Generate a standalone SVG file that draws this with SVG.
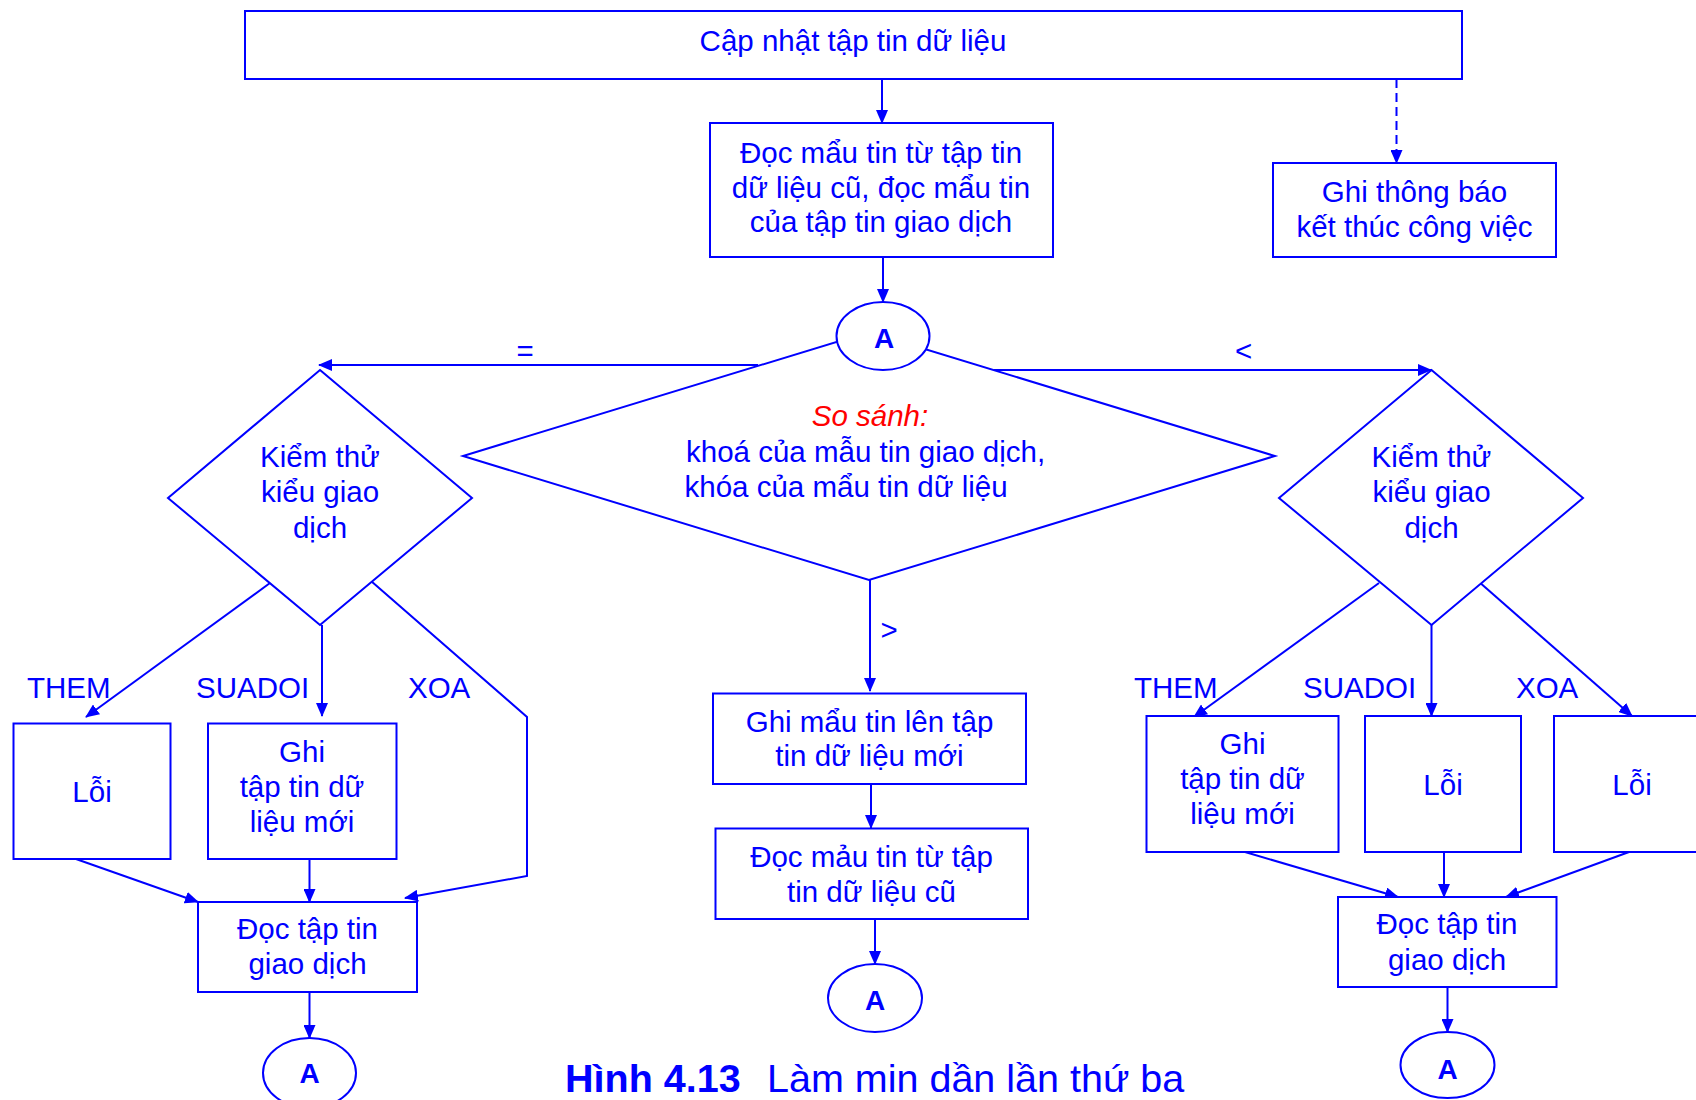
<svg xmlns="http://www.w3.org/2000/svg" width="1696" height="1100" viewBox="0 0 1696 1100">
<defs>
<marker id="arr" markerUnits="userSpaceOnUse" markerWidth="14" markerHeight="12" refX="13" refY="6" orient="auto">
<path d="M0,0 L14,6 L0,12 z" fill="#0000FF"/>
</marker>
<style>
.box{fill:#fff;stroke:#0000FF;stroke-width:2}
.ln{fill:none;stroke:#0000FF;stroke-width:2}
.ar{fill:none;stroke:#0000FF;stroke-width:2;marker-end:url(#arr)}
.t{font-family:"Liberation Sans",Arial,sans-serif;font-size:29.5px;fill:#0000FF}
.c{text-anchor:middle}
.a{font-family:"Liberation Sans",Arial,sans-serif;font-size:28px;font-weight:bold;fill:#0000FF;text-anchor:middle}
.red{fill:#FF0000;font-style:italic}
.cap{font-family:"Liberation Sans",Arial,sans-serif;font-size:39.5px;fill:#0000FF}
</style>
</defs>
<rect width="1696" height="1100" fill="#fff"/>

<g id="connectors">
<line class="ar" x1="882" y1="79" x2="882" y2="123"/>
<line class="ar" x1="1396.5" y1="79" x2="1396.5" y2="163" stroke-dasharray="9,5"/>
<line class="ar" x1="883" y1="257" x2="883" y2="302"/>
<line class="ar" x1="758" y1="365" x2="319" y2="365"/>
<line class="ar" x1="994" y1="370" x2="1431" y2="370"/>
<line class="ar" x1="870" y1="580" x2="870" y2="691"/>
<line class="ar" x1="270" y1="583" x2="86" y2="717"/>
<line class="ar" x1="322" y1="625" x2="322" y2="716"/>
<polyline class="ar" points="371,581 527,717 527,876 405,898"/>
<line class="ar" x1="76" y1="859" x2="198" y2="902"/>
<line class="ar" x1="309.5" y1="859" x2="309.5" y2="902"/>
<line class="ar" x1="309.5" y1="992" x2="309.5" y2="1038"/>
<line class="ar" x1="871" y1="784" x2="871" y2="828"/>
<line class="ar" x1="875" y1="919" x2="875" y2="964"/>
<line class="ar" x1="1379" y1="583" x2="1194" y2="717"/>
<line class="ar" x1="1431.5" y1="625" x2="1431.5" y2="716"/>
<line class="ar" x1="1478" y1="581" x2="1632" y2="716"/>
<line class="ar" x1="1245" y1="852" x2="1398" y2="897"/>
<line class="ar" x1="1444" y1="852" x2="1444" y2="897"/>
<line class="ar" x1="1629" y1="852" x2="1506" y2="897"/>
<line class="ar" x1="1447.5" y1="987" x2="1447.5" y2="1032"/>
</g>

<g id="labels">
<text class="t c" x="525" y="361">=</text>
<text class="t c" x="1243.5" y="361">&lt;</text>
<text class="t c" x="889" y="640">&gt;</text>
<text class="t" x="27" y="698">THEM</text>
<text class="t" x="196" y="698">SUADOI</text>
<text class="t" x="408" y="698">XOA</text>
<text class="t" x="1134" y="698">THEM</text>
<text class="t" x="1303" y="698">SUADOI</text>
<text class="t" x="1516" y="698">XOA</text>
</g>

<g id="n-top">
<rect class="box" x="245" y="11" width="1217" height="68"/>
<text class="t c" x="853" y="50.5">Cập nhật tập tin dữ liệu</text>
</g>

<g id="n-read-both">
<rect class="box" x="710" y="123" width="343" height="134"/>
<text class="t c" x="881" y="163">Đọc mẩu tin từ tập tin</text>
<text class="t c" x="881" y="197.5">dữ liệu cũ, đọc mẩu tin</text>
<text class="t c" x="881" y="232">của tập tin giao dịch</text>
</g>

<g id="n-end">
<rect class="box" x="1273" y="163" width="283" height="94"/>
<text class="t c" x="1414.5" y="202">Ghi thông báo</text>
<text class="t c" x="1414.5" y="237">kết thúc công việc</text>
</g>

<g id="n-compare">
<polygon class="box" points="869,332 1275,456 869,580 463,456"/>
<text class="t c red" x="870" y="426">So sánh:</text>
<text class="t" x="686" y="461.5" font-size="30">khoá của mẫu tin giao dịch,</text>
<text class="t" x="684.5" y="496.5" font-size="29.8">khóa của mẩu tin dữ liệu</text>
</g>

<g id="n-A-top">
<ellipse class="box" cx="883" cy="336" rx="46.5" ry="34"/>
<text class="a" x="884" y="348">A</text>
</g>

<g id="n-test-left">
<polygon class="box" points="320,370 472,498 320,625 168,498"/>
<text class="t c" x="320" y="466.5">Kiểm thử</text>
<text class="t c" x="320" y="502">kiểu giao</text>
<text class="t c" x="320" y="537.5">dịch</text>
</g>

<g id="n-test-right">
<polygon class="box" points="1431.5,370 1583,498 1431.5,625 1279,498"/>
<text class="t c" x="1431.5" y="466.5">Kiểm thử</text>
<text class="t c" x="1431.5" y="502">kiểu giao</text>
<text class="t c" x="1431.5" y="537.5">dịch</text>
</g>

<g id="n-err-left">
<rect class="box" x="13.5" y="723.5" width="157" height="135.5"/>
<text class="t c" x="92" y="801.5">Lỗi</text>
</g>

<g id="n-write-left">
<rect class="box" x="208" y="723.5" width="188.5" height="135.5"/>
<text class="t c" x="302" y="761.5">Ghi</text>
<text class="t c" x="302" y="797">tập tin dữ</text>
<text class="t c" x="302" y="831.5">liệu mới</text>
</g>

<g id="n-readtx-left">
<rect class="box" x="198" y="902" width="219" height="90"/>
<text class="t c" x="307.5" y="939">Đọc tập tin</text>
<text class="t c" x="307.5" y="974">giao dịch</text>
</g>

<g id="n-A-left">
<ellipse class="box" cx="309.5" cy="1073" rx="46.5" ry="35"/>
<text class="a" x="309.5" y="1083">A</text>
</g>

<g id="n-write-mid">
<rect class="box" x="713" y="693.5" width="313" height="90.5"/>
<text class="t c" x="869.5" y="731.5">Ghi mẩu tin lên tập</text>
<text class="t c" x="869.5" y="766">tin dữ liệu mới</text>
</g>

<g id="n-read-mid">
<rect class="box" x="715.5" y="828.5" width="312.5" height="90.5"/>
<text class="t c" x="871.5" y="867">Đọc mảu tin từ tập</text>
<text class="t c" x="871.5" y="901.5">tin dữ liệu cũ</text>
</g>

<g id="n-A-mid">
<ellipse class="box" cx="875" cy="998" rx="47" ry="34"/>
<text class="a" x="875" y="1010">A</text>
</g>

<g id="n-write-right">
<rect class="box" x="1146.5" y="716" width="192" height="136"/>
<text class="t c" x="1242.5" y="753.5">Ghi</text>
<text class="t c" x="1242.5" y="788.5">tập tin dữ</text>
<text class="t c" x="1242.5" y="823.5">liệu mới</text>
</g>

<g id="n-err-right1">
<rect class="box" x="1365" y="716" width="156" height="136"/>
<text class="t c" x="1443" y="795">Lỗi</text>
</g>

<g id="n-err-right2">
<rect class="box" x="1554" y="716" width="160" height="136"/>
<text class="t c" x="1632" y="795">Lỗi</text>
</g>

<g id="n-readtx-right">
<rect class="box" x="1338" y="897" width="218.5" height="90"/>
<text class="t c" x="1447" y="933.5">Đọc tập tin</text>
<text class="t c" x="1447" y="969.5">giao dịch</text>
</g>

<g id="n-A-right">
<ellipse class="box" cx="1447.5" cy="1065" rx="47" ry="33"/>
<text class="a" x="1447.5" y="1079">A</text>
</g>

<g id="caption">
<text class="cap" y="1092"><tspan x="565" font-weight="bold">Hình 4.13</tspan><tspan x="767">Làm min dần lần thứ ba</tspan></text>
</g>
</svg>
